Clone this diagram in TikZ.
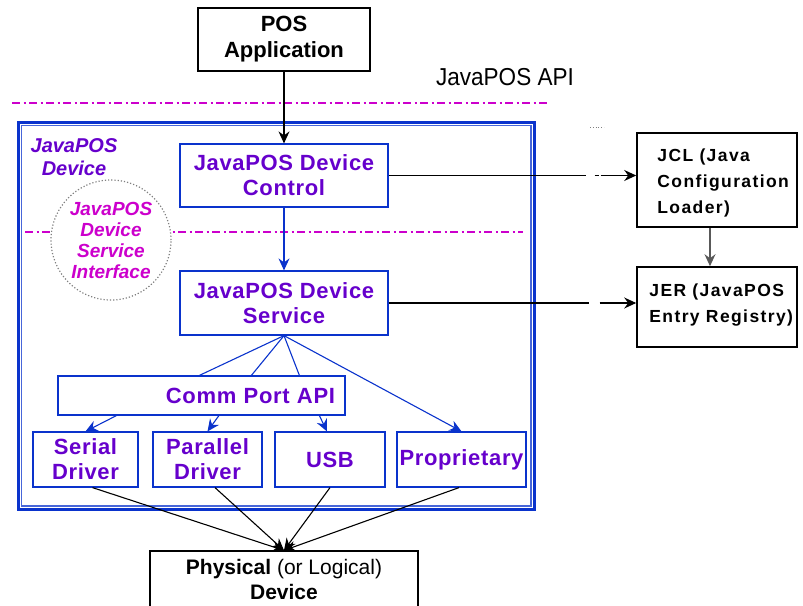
\documentclass[tikz,border=0pt]{standalone}
\usepackage{fontspec}
\setmainfont{Liberation Sans}
\usepackage{tikz}
\usepackage{xcolor}
\usetikzlibrary{arrows.meta,positioning}

\definecolor{jpviolet}{HTML}{6600CC}
\definecolor{jpblue}{HTML}{0A33CC}
\definecolor{jpmagenta}{HTML}{CC00CC}

\begin{document}
\begin{tikzpicture}
[x=1pt,y=-1pt,
 appbox/.style={draw=black,line width=1.4pt,inner sep=0pt,align=center,
   font=\fontsize{22}{26}\selectfont\bfseries},
 jpbox/.style={draw=jpblue,line width=1.2pt,inner sep=0pt,align=center,text=jpviolet,
   font=\fontsize{22}{25}\selectfont\bfseries\addfontfeature{LetterSpace=3}},
 regbox/.style={draw=black,line width=1.6pt,minimum width=160pt,inner sep=0pt},
 regtext/.style={align=left,inner sep=0pt,
   font=\fontsize{17.5}{26}\selectfont\bfseries\addfontfeature{LetterSpace=8}},
 apiline/.style={jpmagenta,line width=1.5pt,dash pattern=on 8pt off 3.5pt on 2pt off 3.5pt},
 callarrow/.style={-{Stealth[length=12pt,width=11pt,inset=4pt]},line width=1.1pt},
 bluearrow/.style={callarrow,draw=jpblue},
 blueline/.style={jpblue,line width=1.1pt}]
\useasboundingbox (0,0) rectangle (803,605);

% layers of the api
\node[font=\fontsize{24.5}{24.5}\selectfont] (api) at (505,77) {\scalebox{0.92}[1]{JavaPOS API}};
\draw[apiline] (12,103) -- (547,103);

% device frame
\draw[jpblue,line width=3pt] (18.5,122.5) rectangle (534.5,509.5);
\draw[jpblue!75,line width=1.2pt] (21.8,125.6) rectangle (531,506);
\node[align=center,text=jpviolet,font=\fontsize{20}{23}\selectfont\bfseries\itshape] (devlbl) at (74,157) {JavaPOS\\Device};
\draw[apiline] (25,232) -- (523,232);
\node[circle,draw=gray,dotted,line width=1.2pt,fill=white,minimum size=120pt,inner sep=0pt,
  align=center,text=jpmagenta,font=\fontsize{19}{21}\selectfont\bfseries\itshape] (dsi) at (111,240)
  {JavaPOS\\Device\\Service\\Interface};
\draw[gray,dotted,line width=0.8pt] (590,127) -- (604,127);

% boxes
\node[appbox,minimum width=172pt,minimum height=63pt] (app) at (284,39.5) {POS\\Application};
\node[jpbox,minimum width=208pt,minimum height=63pt] (ctl) at (284,175.5) {JavaPOS Device\\Control};
\node[jpbox,minimum width=208pt,minimum height=64pt] (svc) at (284,303) {JavaPOS Device\\Service};
\node[jpbox,minimum width=287pt,minimum height=39pt,text width=267pt,align=right] (comm) at (201.5,395.5) {Comm Port API};
\node[jpbox,minimum width=105pt,minimum height=55pt] (serial) at (85.5,459.5) {Serial\\Driver};
\node[jpbox,minimum width=109pt,minimum height=55pt] (parallel) at (207.5,459.5) {Parallel\\Driver};
\node[jpbox,minimum width=110pt,minimum height=55pt] (usb) at (330,459.5) {USB};
\node[jpbox,minimum width=129pt,minimum height=55pt] (prop) at (461.5,459.5) {Proprietary};
\node[draw=black,line width=1.2pt,minimum width=268pt,minimum height=57pt,inner sep=0pt,align=center,
  font=\fontsize{21}{25}\selectfont] (phys) at (284,579.5) {\textbf{Physical} (or Logical)\\\textbf{Device}};
\node[regbox,minimum height=94pt] (jcl) at (717,180) {};
\node[regtext,anchor=west] (jcltxt) at ([xshift=21pt,yshift=-3pt]jcl.west) {JCL (Java\\Configuration\\Loader)};
\node[regbox,minimum height=80pt] (jer) at (717,307) {};
\node[regtext,anchor=west] (jertxt) at ([xshift=13pt,yshift=2pt]jer.west) {JER (JavaPOS\\Entry Registry)};

% calls
\draw[callarrow,line width=1.3pt] (app) -- (ctl);
\draw[bluearrow] (ctl) -- (svc);
\draw[callarrow,dash pattern=on 197pt off 9pt on 4pt off 2pt on 80pt] (ctl.east) -- (ctl.east -| jcl.west);
\draw[callarrow,dash pattern=on 200pt off 11pt on 80pt] (svc.east) -- (svc.east -| jer.west);
\draw[callarrow,draw=black!65,line width=1.3pt] ([xshift=-7pt]jcl.south) -- ([xshift=-7pt]jer.north);

\draw[blueline] (svc.south) -- ([xshift=142pt]comm.north west);
\draw[blueline] (svc.south) -- ([xshift=194pt]comm.north west);
\draw[blueline] (svc.south) -- ([xshift=242pt]comm.north west);
\draw[bluearrow] (svc.south) -- (prop.north);
\draw[bluearrow] ([xshift=59pt]comm.south west) -- (serial.north);
\draw[bluearrow] ([xshift=161.5pt]comm.south west) -- (parallel.north);
\draw[bluearrow] ([xshift=262pt]comm.south west) -- ([xshift=-3pt]usb.north);

\draw[callarrow] ([xshift=7pt]serial.south) -- (phys.north);
\draw[callarrow] ([xshift=7.5pt]parallel.south) -- (phys.north);
\draw[callarrow] (usb.south) -- (phys.north);
\draw[callarrow] ([xshift=-2.5pt]prop.south) -- (phys.north);
\end{tikzpicture}
\end{document}
